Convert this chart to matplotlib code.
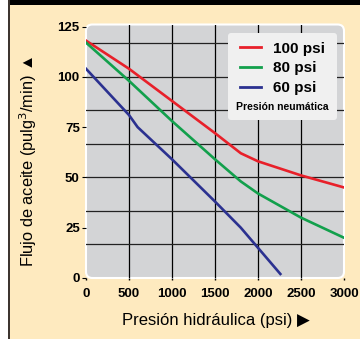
import matplotlib
matplotlib.use('Agg')
import matplotlib.pyplot as plt
from matplotlib.patches import FancyBboxPatch, Rectangle
from matplotlib.lines import Line2D

# data
x_100 = [0, 500, 1000, 1500, 1800, 2000, 2500, 3000]
y_100 = [118, 104, 88, 72, 62, 58, 51, 45]
x_80 = [0, 500, 1000, 1500, 1800, 2000, 2500, 3000]
y_80 = [117, 98, 78, 59, 48, 42, 30, 20]
x_60 = [0, 500, 600, 1000, 1500, 1800, 2000, 2260]
y_60 = [104, 81, 75, 59, 38, 25, 15, 2]

series_labels = ['100 psi', '80 psi', '60 psi']
xticks = [0, 500, 1000, 1500, 2000, 2500, 3000]
yticks = [0, 25, 50, 75, 100, 125]
hgrid = [100 / 6 * k for k in range(1, 8)]
vgrid = [500, 1000, 1500, 2000, 2500]

cream = '#FEEABF'
panel = '#D3D4D6'
colors = ['#E8202A', '#12A04C', '#2B3190']
fam = ['Liberation Sans', 'DejaVu Sans']

fig = plt.figure(figsize=(3.6, 3.39), dpi=100)
fig.patch.set_facecolor('white')

# cream frame with black header bar and dark left border
fig.patches.append(Rectangle((8/360, 0), 1, 1, transform=fig.transFigure, facecolor=cream, edgecolor='none', zorder=-3))
fig.patches.append(Rectangle((8/360, 1 - 5/339), 1, 5/339, transform=fig.transFigure, facecolor='black', edgecolor='none', zorder=-2))
fig.patches.append(Rectangle((8/360, 0), 2/360, 1, transform=fig.transFigure, facecolor='#3D3530', edgecolor='none', zorder=-2))

ax = fig.add_axes([86/360, 61/339, 258/360, 253.5/339])
ax.set_zorder(2)
ax.patch.set_visible(False)
for s in ax.spines.values():
    s.set_visible(False)

bg = FancyBboxPatch((0, 0), 1, 1, boxstyle='round,pad=0,rounding_size=0.025', transform=ax.transAxes,
                    facecolor=panel, edgecolor='white', lw=1.5, zorder=0, clip_on=False)
ax.add_patch(bg)

for v in vgrid:
    ax.axvline(v, color='black', lw=0.9, zorder=1)
for h in hgrid:
    ax.axhline(h, color='#222222', lw=0.9, zorder=1)

ax.plot(x_100, y_100, color=colors[0], lw=1.9, zorder=3)
ax.plot(x_80, y_80, color=colors[1], lw=1.9, zorder=3)
ax.plot(x_60, y_60, color=colors[2], lw=1.9, zorder=3)

ax.set_xlim(0, 3000)
ax.set_ylim(0, 126)
ax.set_xticks(xticks)
ax.set_yticks(yticks)
ax.tick_params(axis='y', length=3, width=0.8, pad=1.5, labelsize=9.5)
ax.tick_params(axis='x', length=1.5, width=1, pad=6, labelsize=9.5)
for lab in ax.get_xticklabels() + ax.get_yticklabels():
    lab.set_fontfamily('Liberation Sans')
    lab.set_fontweight('bold')

handles = [Line2D([0], [0], color=c, lw=2) for c in colors]
leg = ax.legend(handles, series_labels, loc='upper right', bbox_to_anchor=(0.973, 0.966),
                borderaxespad=0, title='Presión neumática', frameon=True, fancybox=True,
                handlelength=1.4, handletextpad=0.8, labelspacing=0.38, borderpad=0.55,
                prop={'family': 'Liberation Sans', 'weight': 'bold', 'size': 11})
leg.get_title().set_fontfamily('Liberation Sans')
leg.get_title().set_fontweight('bold')
leg.get_title().set_fontsize(7.5)
leg.get_frame().set_facecolor('#F0F0F0')
leg.get_frame().set_edgecolor('none')
leg.get_frame().set_alpha(1)
leg.set_zorder(5)
# move the title below the entries
vp = leg._legend_box
vp._children = vp._children[::-1]
vp.sep = 5

fig.text(28/360, 1 - 161/339, 'Flujo de aceite (pulg$^3$/min) ▲', rotation=90, ha='center', va='center',
         fontsize=11.8, family=fam)
fig.text(216/360, 1 - 320/339, 'Presión hidráulica (psi) ▶', ha='center', va='center',
         fontsize=12, family=fam)

fig.savefig('out.png', dpi=100, facecolor=fig.get_facecolor())
